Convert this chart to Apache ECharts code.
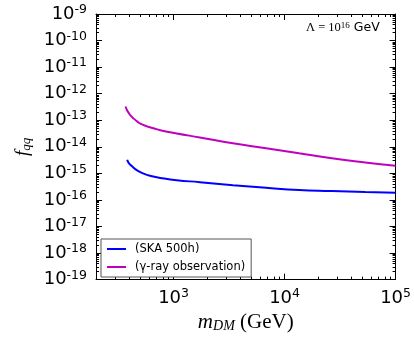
<!DOCTYPE html>
<html>
<head>
<meta charset="utf-8">
<script src="https://cdn.jsdelivr.net/npm/echarts@6/dist/echarts.min.js"></script>
<style>
  html, body { margin: 0; padding: 0; background: #fff; }
  #chart { width: 414px; height: 338px; }
</style>
</head>
<body>
<div id="chart"></div>
<script>
// values
var massSKA = [382, 395, 423, 469, 537, 639, 757, 1068, 1725, 3423, 6807, 13505, 26640, 53300, 100000];
var fSKA = [3.23e-15, 2.44e-15, 1.84e-15, 1.30e-15, 9.75e-16, 7.8e-16, 6.75e-16, 5.5e-16, 4.67e-16, 3.6e-16, 2.86e-16, 2.35e-16, 2.16e-16, 1.98e-16, 1.87e-16];
var massGamma = [369, 382, 395, 409, 437, 469, 502, 576, 660, 757, 1068, 1725, 3423, 6807, 13505, 26640, 53300, 100000];
var fGamma = [3.29e-13, 2.33e-13, 1.87e-13, 1.52e-13, 1.15e-13, 9.1e-14, 7.5e-14, 5.9e-14, 5.0e-14, 4.2e-14, 3.18e-14, 2.25e-14, 1.35e-14, 8.8e-15, 5.7e-15, 3.73e-15, 2.59e-15, 1.93e-15];

var xExp = [3, 4, 5];
var yExp = [-19, -18, -17, -16, -15, -14, -13, -12, -11, -10, -9];
var xMin = 200, xMax = 1e5;
var yMin = 1e-19, yMax = 1e-9;

var xMajor = xExp.map(function (e) { return Number('1e' + e); });
var yMajor = yExp.map(function (e) { return Number('1e' + e); });
var xMinor = [], yMinor = [];
[2, 3, 4].forEach(function (e) {
  for (var k = 2; k <= 9; k++) {
    var v = k * Number('1e' + e);
    if (v >= xMin && v < xMax) xMinor.push(v);
  }
});
yExp.slice(0, -1).forEach(function (e) {
  for (var k = 2; k <= 9; k++) yMinor.push(Number(k + 'e' + e));
});

function pow10Label(v) {
  var e = Math.round(Math.log10(v));
  return '{b|10}{s|' + e + '}';
}
var labelRich = {
  b: { fontSize: 18, fontFamily: 'DejaVu Sans', color: '#000' },
  s: { fontSize: 12.5, fontFamily: 'DejaVu Sans', color: '#000', verticalAlign: 'top', padding: [0, 0, 8, 0] }
};

function makeAxis(pos, type, min, max, ticks, len, withLine, label) {
  return {
    type: 'log',
    logBase: 10,
    position: pos,
    min: min,
    max: max,
    splitLine: { show: false },
    axisLine: { show: withLine, lineStyle: { color: '#000', width: 1 } },
    axisTick: { show: true, inside: true, length: len, customValues: ticks, lineStyle: { color: '#000', width: 1 } },
    axisLabel: label ? {
      show: true, customValues: ticks, margin: type === 'x' ? 8 : 9,
      formatter: pow10Label, rich: labelRich
    } : { show: false }
  };
}

var chart = echarts.init(document.getElementById('chart'));
var xAxes = [
  makeAxis('bottom', 'x', xMin, xMax, xMajor, 6, true, true),
  makeAxis('bottom', 'x', xMin, xMax, xMinor, 3, false, false),
  makeAxis('top', 'x', xMin, xMax, xMajor, 6, true, false),
  makeAxis('top', 'x', xMin, xMax, xMinor, 3, false, false)
];
var yAxes = [
  makeAxis('left', 'y', yMin, yMax, yMajor, 6, true, true),
  makeAxis('left', 'y', yMin, yMax, yMinor, 3, false, false),
  makeAxis('right', 'y', yMin, yMax, yMajor, 6, true, false),
  makeAxis('right', 'y', yMin, yMax, yMinor, 3, false, false)
];
xAxes[0].name = '{i|m}{d|DM}{r| (GeV)}';
xAxes[0].nameLocation = 'middle';
xAxes[0].nameGap = 32;
xAxes[0].nameTextStyle = {
  rich: {
    i: { fontSize: 21, fontFamily: 'Liberation Serif', fontStyle: 'italic', color: '#000' },
    d: { fontSize: 14, fontFamily: 'Liberation Serif', fontStyle: 'italic', color: '#000', verticalAlign: 'bottom', padding: [7, 0, 0, 0] },
    r: { fontSize: 21, fontFamily: 'Liberation Serif', color: '#000' }
  }
};
yAxes[0].name = '{f|f}{q|qq}';
yAxes[0].nameLocation = 'middle';
yAxes[0].nameGap = 56;
yAxes[0].nameTextStyle = {
  rich: {
    f: { fontSize: 19, fontFamily: 'Liberation Serif', fontStyle: 'italic', color: '#000' },
    q: { fontSize: 13, fontFamily: 'Liberation Serif', fontStyle: 'italic', color: '#000', verticalAlign: 'bottom', padding: [6, 0, 0, 0] }
  }
};

function pairs(xs, ys) {
  return xs.map(function (x, i) { return [x, ys[i]]; });
}

chart.setOption({
  animation: false,
  backgroundColor: '#fff',
  grid: { left: 96, top: 14, width: 301, height: 269, containLabel: false },
  xAxis: xAxes,
  yAxis: yAxes,
  legend: {
    left: 101, top: 239,
    orient: 'vertical',
    padding: [4, 6, 4, 6],
    itemGap: 6,
    itemWidth: 19, itemHeight: 2,
    icon: 'rect',
    borderColor: '#555', borderWidth: 1,
    backgroundColor: '#fff',
    textStyle: { fontSize: 11.5, fontFamily: 'DejaVu Sans', color: '#000', lineHeight: 12, padding: [0, 0, 0, 4] },
    data: ['(SKA 500h)', '(γ-ray observation)']
  },
  graphic: [{
    type: 'text', left: 306, top: 21,
    style: {
      text: '{m|Λ = 10}{s|16}{g| GeV}',
      rich: {
        m: { fontSize: 12.5, fontFamily: 'Liberation Serif', fill: '#000' },
        s: { fontSize: 9, fontFamily: 'Liberation Serif', fill: '#000', verticalAlign: 'top', padding: [0, 0, 5, 0] },
        g: { fontSize: 12.5, fontFamily: 'DejaVu Sans', fill: '#000' }
      }
    }
  }],
  series: [{
    name: '(SKA 500h)',
    type: 'line',
    smooth: 0.5,
    showSymbol: false,
    data: pairs(massSKA, fSKA),
    lineStyle: { color: '#0000ff', width: 2 },
    itemStyle: { color: '#0000ff' }
  }, {
    name: '(γ-ray observation)',
    type: 'line',
    smooth: 0.5,
    showSymbol: false,
    data: pairs(massGamma, fGamma),
    lineStyle: { color: '#bf00bf', width: 2 },
    itemStyle: { color: '#bf00bf' }
  }]
});
</script>
</body>
</html>
